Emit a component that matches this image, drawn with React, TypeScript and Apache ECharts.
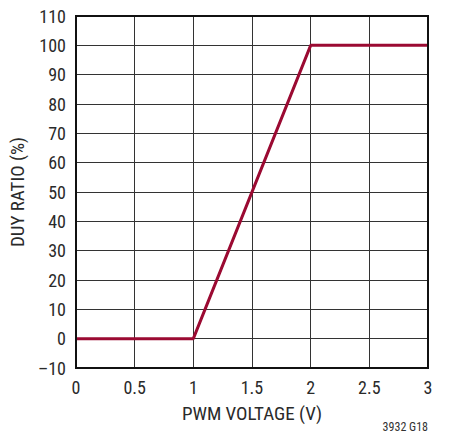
import React, { useEffect, useRef } from "react";
import * as echarts from "echarts";

const pwmVoltage = [0, 1, 2, 3];
const dutyRatio = [0, 0, 100, 100];
const xTicks = { min: 0, max: 3, interval: 0.5 };
const yTicks = { min: -10, max: 110, interval: 10 };

const FONT = "'Roboto Condensed', 'Liberation Sans Narrow', 'Liberation Sans', sans-serif";

export default function App() {
  const ref = useRef<HTMLDivElement>(null);
  useEffect(() => {
    if (!ref.current) return;
    const chart = echarts.init(ref.current, undefined, { renderer: "svg" });
    chart.setOption({
      animation: false,
      backgroundColor: "#ffffff",
      grid: { left: 76, right: 28, top: 16, bottom: 68, show: false },
      xAxis: {
        type: "value",
        min: xTicks.min,
        max: xTicks.max,
        interval: xTicks.interval,
        name: "PWM VOLTAGE (V)",
        nameLocation: "middle",
        nameGap: 36,
        nameTextStyle: { fontFamily: FONT, fontSize: 19, color: "#2a2a2a" },
        axisLine: { show: false },
        axisTick: { show: false },
        axisLabel: {
          fontFamily: FONT,
          fontSize: 18,
          color: "#2a2a2a",
          margin: 10,
          formatter: (v: number) => String(v),
        },
        splitLine: { show: true, lineStyle: { color: "#333", width: 1 } },
      },
      yAxis: {
        type: "value",
        min: yTicks.min,
        max: yTicks.max,
        interval: yTicks.interval,
        name: "DUY RATIO (%)",
        nameLocation: "middle",
        nameGap: 45,
        nameTextStyle: { fontFamily: FONT, fontSize: 19, color: "#2a2a2a" },
        axisLine: { show: false },
        axisTick: { show: false },
        axisLabel: {
          fontFamily: FONT,
          fontSize: 18,
          color: "#2a2a2a",
          margin: 10,
          formatter: (v: number) => (v < 0 ? "\u2013" + Math.abs(v) : String(v)),
        },
        splitLine: { show: true, lineStyle: { color: "#333", width: 1 } },
      },
      graphic: [
        {
          type: "rect",
          shape: { x: 76, y: 16, width: 352, height: 352 },
          style: { fill: "none", stroke: "#111", lineWidth: 2 },
          z: 10,
        },
        {
          type: "text",
          right: 28,
          top: 421,
          style: { text: "3932 G18", fontFamily: FONT, fontSize: 12, fill: "#333" },
        },
      ],
      series: [
        {
          type: "line",
          data: pwmVoltage.map((x, i) => [x, dutyRatio[i]]),
          symbol: "none",
          lineStyle: { color: "#9b0a32", width: 3 },
          z: 5,
        },
      ],
    });
    return () => chart.dispose();
  }, []);
  return <div ref={ref} style={{ width: 456, height: 436, position: "absolute", left: 0, top: 0 }} />;
}
